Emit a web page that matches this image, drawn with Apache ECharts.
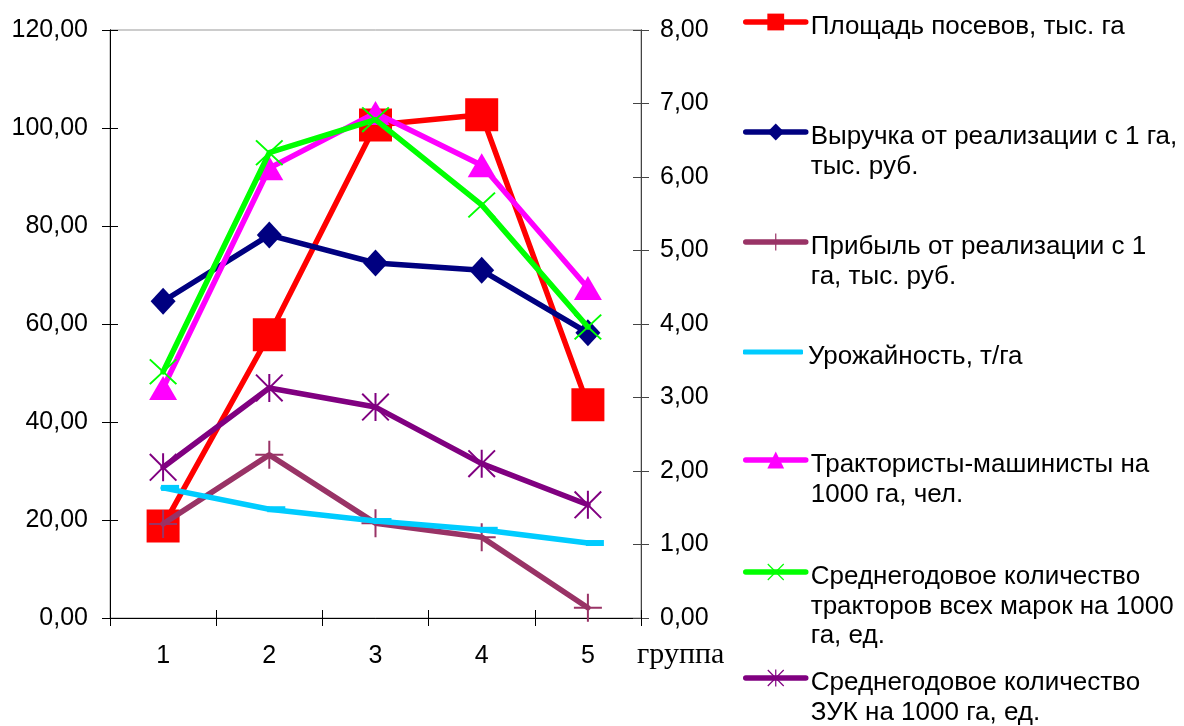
<!DOCTYPE html>
<html>
<head>
<meta charset="utf-8">
<script src="https://cdn.jsdelivr.net/npm/echarts@6/dist/echarts.min.js"></script>
<style>
html,body{margin:0;padding:0;background:#fff;}
#chart{width:1184px;height:726px;}
</style>
</head>
<body>
<div id="chart"></div>
<script>
// ---- data ----
const categories = ['1', '2', '3', '4', '5'];
const seriesNames = [
  'Площадь посевов, тыс. га',
  'Выручка от реализации с 1 га, тыс. руб.',
  'Прибыль от реализации с 1 га, тыс. руб.',
  'Урожайность, т/га',
  'Трактористы-машинисты на 1000 га, чел.',
  'Среднегодовое количество тракторов всех марок на 1000 га, ед.',
  'Среднегодовое количество ЗУК на 1000 га, ед.'
];
const legendLabels = [
  'Площадь посевов, тыс. га',
  'Выручка от реализации с 1 га,\nтыс. руб.',
  'Прибыль от реализации с 1\nга, тыс. руб.',
  'Урожайность, т/га',
  'Трактористы-машинисты на\n1000 га, чел.',
  'Среднегодовое количество\nтракторов всех марок на 1000\nга, ед.',
  'Среднегодовое количество\nЗУК на 1000 га, ед.'
];
const area     = [18.8, 57.8, 100.6, 102.7, 43.5];   // left axis
const revenue  = [4.31, 5.21, 4.83, 4.73, 3.88];     // right axis
const profit   = [1.28, 2.22, 1.29, 1.10, 0.14];
const yieldT   = [1.77, 1.48, 1.32, 1.20, 1.02];
const drivers  = [3.13, 6.12, 6.87, 6.16, 4.49];
const tractors = [3.35, 6.33, 6.78, 5.62, 3.96];
const zuk      = [2.05, 3.13, 2.87, 2.10, 1.54];
const leftTicks = {min: 0, max: 120, interval: 20};
const rightTicks = {min: 0, max: 8, interval: 1};
const xName = 'группа';

// ---- styles ----
const FONT = 'Liberation Sans, Arial, sans-serif';
const fmt = v => v.toFixed(2).replace('.', ',');
const PLUS = 'path://M13,0 L15,0 L15,28 L13,28 Z M0,13 L28,13 L28,15 L0,15 Z';
const XMARK = 'path://M0,1.4 L1.4,0 L28,26.6 L26.6,28 Z M26.6,0 L28,1.4 L1.4,28 L0,26.6 Z';
const STAR = 'path://M0,1.4 L1.4,0 L28,26.6 L26.6,28 Z M26.6,0 L28,1.4 L1.4,28 L0,26.6 Z M13,0 L15,0 L15,28 L13,28 Z';

const defs = [
  {data: area, axis: 0, color: '#FF0000', symbol: 'rect', size: 33},
  {data: revenue, axis: 1, color: '#000080', symbol: 'diamond', size: [25, 27]},
  {data: profit, axis: 1, color: '#993366', symbol: PLUS, size: 28},
  {data: yieldT, axis: 1, color: '#00CCFF', symbol: 'rect', size: [18, 6], offset: [7, 0]},
  {data: drivers, axis: 1, color: '#FF00FF', symbol: 'triangle', size: [28, 24]},
  {data: tractors, axis: 1, color: '#00FF00', symbol: XMARK, size: [28, 26]},
  {data: zuk, axis: 1, color: '#800080', symbol: STAR, size: 28}
];

const series = defs.map((d, i) => ({
  name: seriesNames[i],
  type: 'line',
  yAxisIndex: d.axis,
  data: d.data,
  symbol: d.symbol,
  symbolSize: d.size,
  symbolOffset: d.offset || [0, 0],
  showAllSymbol: true,
  z: 2 + i * 0.01,
  lineStyle: {color: d.color, width: 5.5, cap: 'round', join: 'round'},
  itemStyle: {color: d.color, borderWidth: 0},
  emphasis: {disabled: true},
  animation: false
}));

const LH = 29.5;
const iconY = [22, 132, 242, 352, 460, 572, 678];
const legends = legendLabels.map((lab, i) => {
  const n = lab.split('\n').length;
  const sp = (n - 1) * LH + 10;
  const boxH = n * LH + sp;
  const isYield = i === 3;
  return {
    show: true,
    orient: 'vertical',
    left: 743,
    top: iconY[i] - boxH / 2,
    padding: 0,
    itemWidth: 60,
    itemHeight: isYield ? 5 : 21,
    selectedMode: false,
    data: isYield ? [{name: seriesNames[i], icon: 'roundRect'}] : [seriesNames[i]],
    formatter: () => '{sp| }\n' + lab,
    lineStyle: {width: 5.5, cap: 'round'},
    textStyle: {
      fontFamily: FONT, fontSize: 26, color: '#000', lineHeight: LH,
      rich: {sp: {fontSize: 2, lineHeight: sp}}
    }
  };
});

const baseY = (pos, ticks, lineColor, inside) => ({
  type: 'value',
  position: pos,
  offset: 0,
  min: ticks.min, max: ticks.max, interval: ticks.interval,
  splitLine: {show: false},
  axisLine: {show: true, onZero: false, lineStyle: {color: lineColor, width: 1}},
  axisTick: {show: true, inside: inside, length: 8, lineStyle: {color: lineColor, width: 1}},
  axisLabel: inside ? {show: false} : {
    show: true, formatter: fmt, margin: pos === 'left' ? 22 : 19,
    fontFamily: FONT, fontSize: 25, color: '#000'
  }
});

const baseX = (inside) => ({
  type: 'category', data: categories, position: 'bottom', boundaryGap: true, offset: 0,
  axisLine: {show: true, onZero: false, lineStyle: {color: '#000', width: 1}},
  axisTick: {show: true, inside: inside, length: 8, alignWithLabel: false, lineStyle: {color: '#000'}},
  axisLabel: inside ? {show: false} : {margin: 26, fontFamily: FONT, fontSize: 25, color: '#000'},
  splitLine: {show: false}
});

const xMain = baseX(false);
xMain.name = xName;
xMain.nameLocation = 'end';
xMain.nameGap = -4;
xMain.nameTextStyle = {fontFamily: 'Liberation Serif, Times New Roman, serif', fontSize: 30, color: '#000',
  align: 'left', verticalAlign: 'top', padding: [22, 0, 0, 0]};

const option = {
  backgroundColor: '#fff',
  animation: false,
  grid: {left: 110, right: 543, top: 30, bottom: 108, show: true, borderColor: '#999', borderWidth: 1, backgroundColor: 'transparent'},
  legend: legends,
  xAxis: [xMain, baseX(true)],
  yAxis: [
    baseY('left', leftTicks, '#000', false),
    baseY('right', rightTicks, '#444', false),
    baseY('left', leftTicks, '#000', true),
    baseY('right', rightTicks, '#444', true)
  ],
  series: series
};

const chart = echarts.init(document.getElementById('chart'), null, {renderer: 'canvas'});
chart.setOption(option);
</script>
</body>
</html>
